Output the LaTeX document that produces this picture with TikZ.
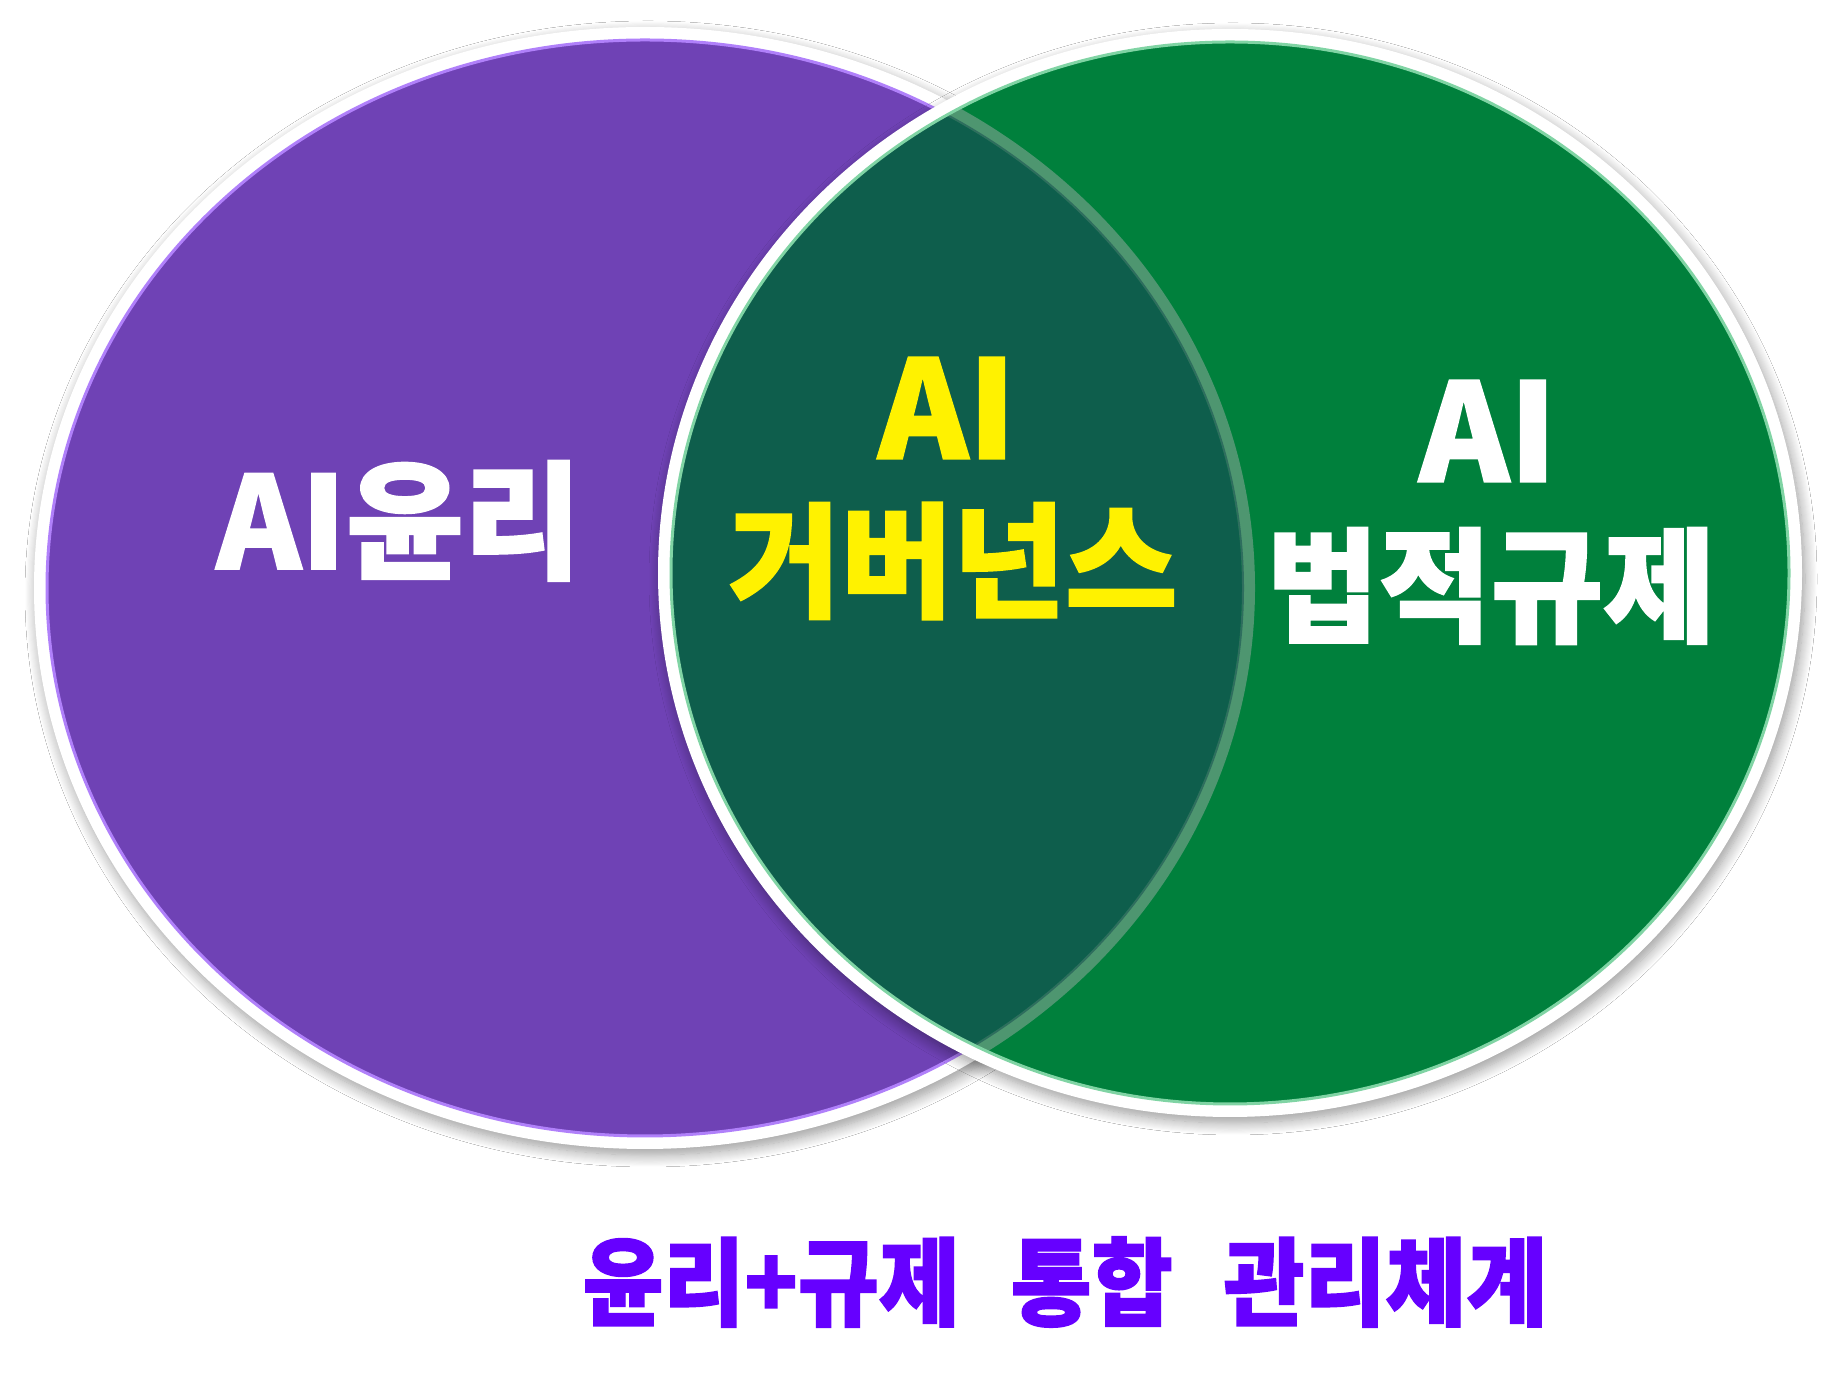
\documentclass[tikz,border=0pt]{standalone}
\usepackage{fontspec}
\usepackage{graphicx}
\newfontfamily\kr{Noto Sans CJK KR}[BoldFeatures={FakeBold=1.5}]
\usetikzlibrary{shadows.blur}
\definecolor{vpurple}{RGB}{111,66,181}
\definecolor{vlav}{RGB}{176,128,250}
\definecolor{vgreen}{RGB}{0,128,60}
\definecolor{vlgreen}{RGB}{128,212,164}
\definecolor{voverlap}{RGB}{14,94,76}
\definecolor{vband}{RGB}{78,150,112}
\definecolor{vbandedge}{RGB}{46,110,94}
\definecolor{vtext}{RGB}{102,0,255}
\begin{document}
\begin{tikzpicture}[x=1pt,y=1pt,
  ring/.style={fill=white, blur shadow={shadow xshift=3pt, shadow yshift=-6pt, shadow blur radius=12pt, shadow blur steps=12, shadow opacity=40}},
  lbl/.style={font=\kr\bfseries, inner sep=0pt, align=center},
]
\useasboundingbox[fill=white] (0,0) rectangle (1845,1394);
% purple circle
\path[ring] (645,806) ellipse [x radius=611, y radius=561];
\fill[vpurple] (645,806) ellipse [x radius=597, y radius=547];
\draw[vlav, line width=3pt] (645,806) ellipse [x radius=598, y radius=548];
% green circle
\path[ring] (1230,821) ellipse [x radius=572, y radius=544];
\fill[vgreen] (1230,821) ellipse [x radius=558, y radius=530];
\begin{scope}
  \clip (1230,821) ellipse [x radius=558, y radius=530];
  \fill[voverlap] (645,806) ellipse [x radius=597, y radius=547];
  \draw[vband, line width=12pt] (645,806) ellipse [x radius=604, y radius=554];
  \draw[vbandedge, line width=2pt] (645,806) ellipse [x radius=598, y radius=548];
\end{scope}
\draw[vlgreen, line width=3pt] (1230,821) ellipse [x radius=559, y radius=531];
% labels
\node[lbl, text=white] (ethics) at (399,873) {\fontsize{128}{130}\selectfont AI윤리};
\node[lbl, text=yellow] (govai) at (947,986) {\fontsize{136}{140}\selectfont AI};
\node[lbl, text=yellow] (gov) at (953,833) {\fontsize{122}{130}\selectfont\scalebox{1}[1.02]{거버넌스}};
\node[lbl, text=white] (lawai) at (1488,963) {\fontsize{136}{140}\selectfont AI};
\node[lbl, text=white] (law) at (1491,808) {\fontsize{122}{130}\selectfont\scalebox{1}[1.02]{법적규제}};
\node[lbl, text=vtext] (caption) at (1065,112) {\fontsize{88}{90}\selectfont\scalebox{1}[1.09]{윤리+규제 \hspace{0.35em}통합 \hspace{0.35em}관리체계}};
\end{tikzpicture}
\end{document}
